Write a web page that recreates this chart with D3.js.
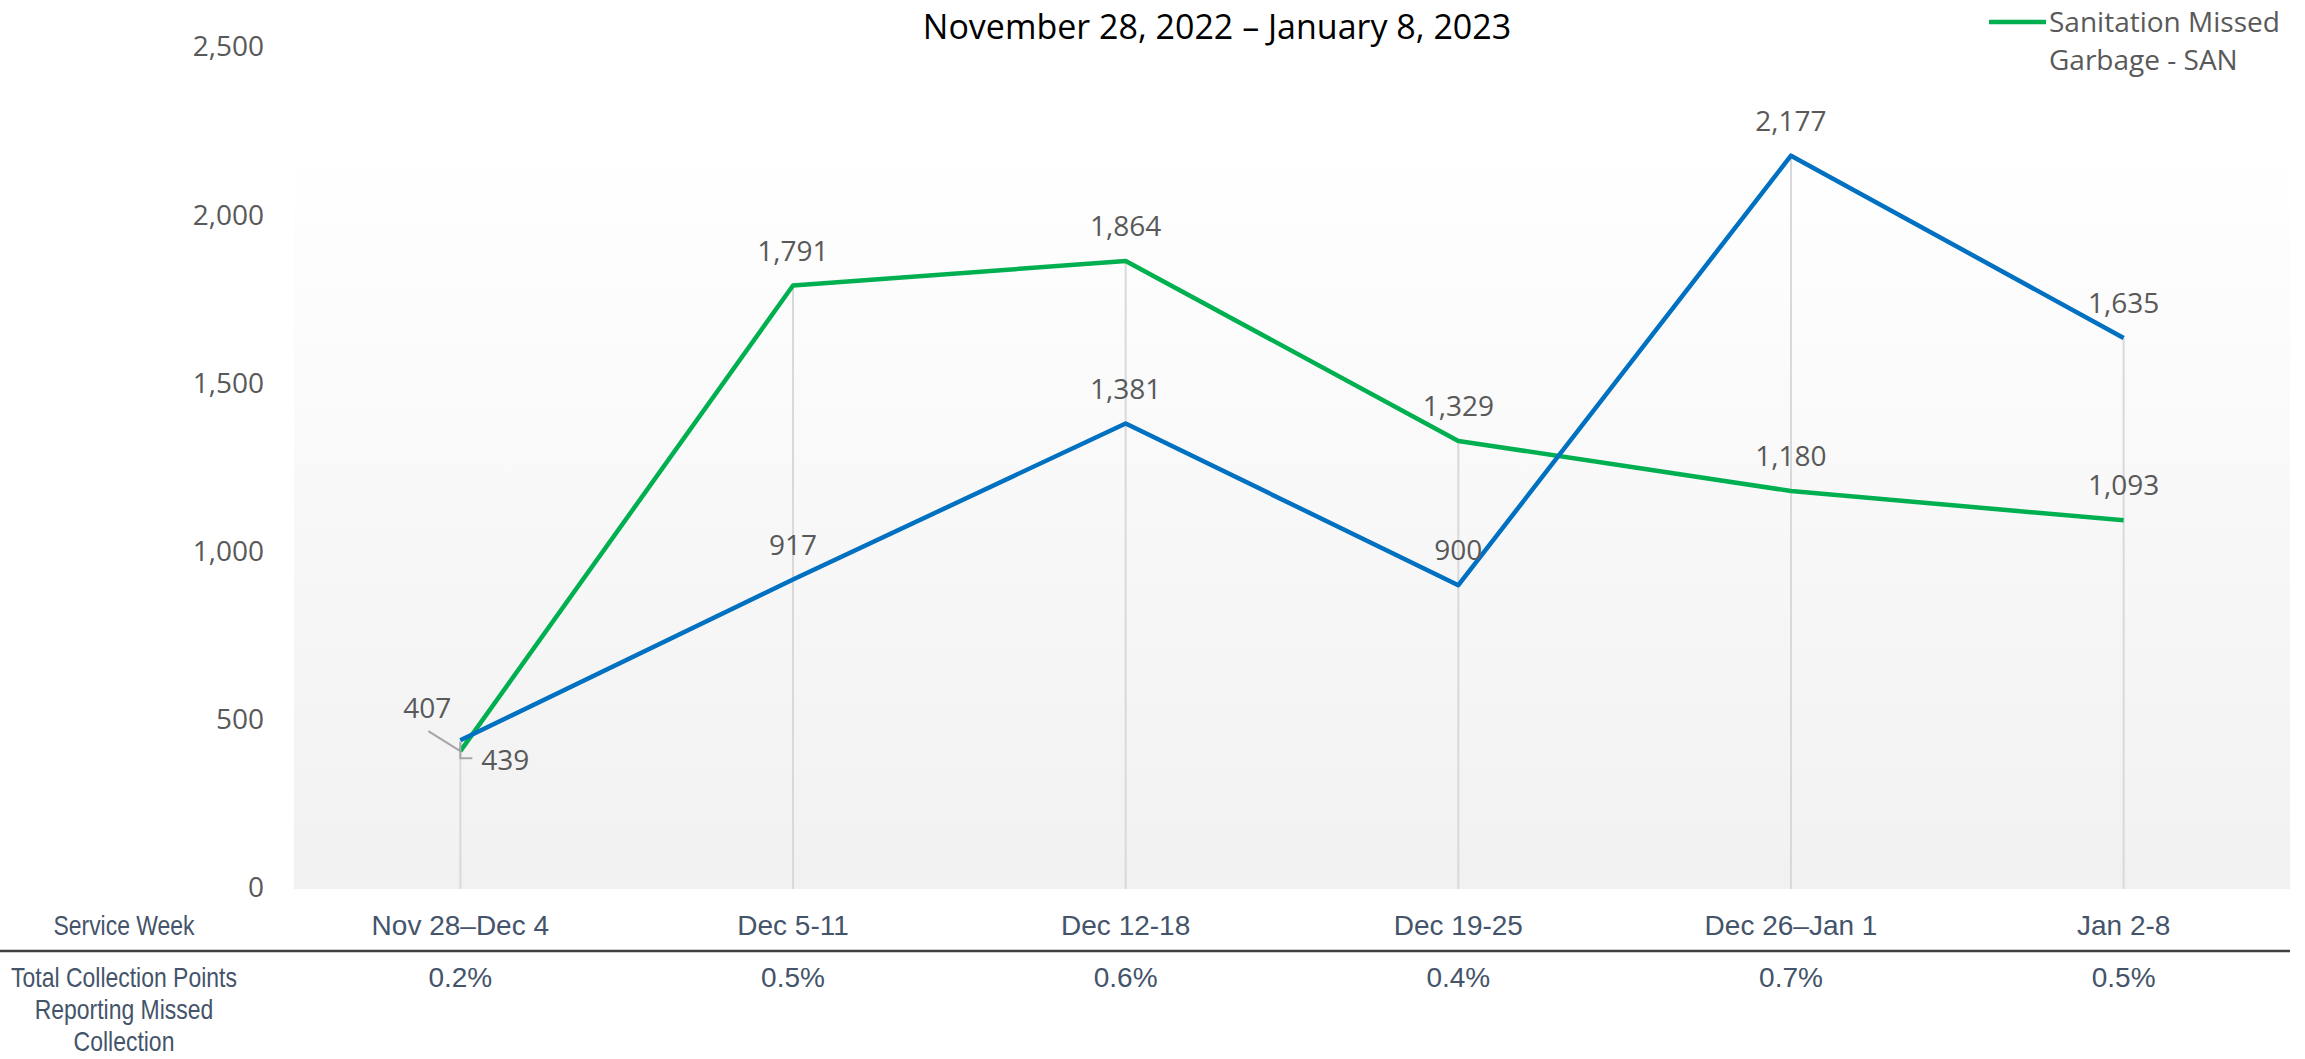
<!DOCTYPE html>
<html>
<head>
<meta charset="utf-8">
<script src="https://cdn.jsdelivr.net/npm/d3@7"></script>
<style>
  body { margin: 0; background: #fff; }
  svg { display: block; }
</style>
</head>
<body>
<div id="chart"></div>
<script>
// chart data
const weeks = ["Nov 28–Dec 4", "Dec 5-11", "Dec 12-18", "Dec 19-25", "Dec 26–Jan 1", "Jan 2-8"];
const blueValues = [439, 917, 1381, 900, 2177, 1635];
const sanValues = [407, 1791, 1864, 1329, 1180, 1093];
const pctMissed = ["0.2%", "0.5%", "0.6%", "0.4%", "0.7%", "0.5%"];
const yTicks = [0, 500, 1000, 1500, 2000, 2500];
const titleText = "November 28, 2022 – January 8, 2023";
const sanLabel = ["Sanitation Missed", "Garbage - SAN"];
const rowLabels = ["Service Week"];
const pctRowLabel = ["Total Collection Points", "Reporting Missed", "Collection"];

const W = 2305, H = 1059;
const plotLeft = 294, plotRight = 2290, plotTop = 145, plotBottom = 889;
const labelFont = "'Open Sans', sans-serif";
const tableFont = "'Liberation Sans', Arial, sans-serif";

const svg = d3.select("#chart").append("svg")
    .attr("width", W)
    .attr("height", H);

// background gradient for plot area
const defs = svg.append("defs");
const grad = defs.append("linearGradient")
    .attr("id", "plotBg")
    .attr("x1", 0).attr("y1", 0).attr("x2", 0).attr("y2", 1);
grad.append("stop").attr("offset", "0%").attr("stop-color", "#ffffff");
grad.append("stop").attr("offset", "100%").attr("stop-color", "#f1f1f1");

svg.append("rect")
    .attr("x", plotLeft).attr("y", plotTop)
    .attr("width", plotRight - plotLeft)
    .attr("height", plotBottom - plotTop)
    .attr("fill", "url(#plotBg)");

// scales
const x = d3.scaleBand().domain(weeks).range([plotLeft, plotRight]);
const cx = d => x(d) + x.bandwidth() / 2;
const y = d3.scaleLinear().domain([0, 2500]).range([888, 47]);

// drop lines
svg.append("g").selectAll("line")
    .data(weeks)
    .enter()
    .append("line")
    .attr("x1", d => cx(d)).attr("x2", d => cx(d))
    .attr("y1", (d, i) => y(Math.max(blueValues[i], sanValues[i])))
    .attr("y2", plotBottom)
    .attr("stroke", "#d9d9d9")
    .attr("stroke-width", 2);

// y axis
const yAxis = d3.axisLeft(y).tickValues(yTicks).tickFormat(d3.format(",")).tickSize(0).tickPadding(30);
const yG = svg.append("g")
    .attr("transform", `translate(${plotLeft},0)`)
    .call(yAxis);
yG.select(".domain").remove();
yG.selectAll("text")
    .attr("font-family", labelFont)
    .attr("font-size", 28)
    .attr("fill", "#595959");

// lines
const line = d3.line()
    .x((d, i) => cx(weeks[i]))
    .y(d => y(d));

svg.append("path")
    .datum(sanValues)
    .attr("d", line)
    .attr("fill", "none")
    .attr("stroke", "#00b050")
    .attr("stroke-width", 4.5)
    .attr("stroke-linejoin", "round");

svg.append("path")
    .datum(blueValues)
    .attr("d", line)
    .attr("fill", "none")
    .attr("stroke", "#0070c0")
    .attr("stroke-width", 4.5)
    .attr("stroke-linejoin", "round");

// data labels (first week uses callouts)
const fmt = d3.format(",");
const labelG = svg.append("g")
    .attr("font-family", labelFont)
    .attr("font-size", 28)
    .attr("fill", "#595959")
    .attr("text-anchor", "middle");

[sanValues, blueValues].forEach(vals => {
    labelG.selectAll(null)
        .data(vals.slice(1))
        .enter()
        .append("text")
        .attr("x", (d, i) => cx(weeks[i + 1]))
        .attr("y", d => y(d) - 35)
        .attr("dy", "0.36em")
        .text(d => fmt(d));
});

// callouts for the first week
const x0 = cx(weeks[0]);
const ySan0 = y(sanValues[0]);
const yBlue0 = y(blueValues[0]);
labelG.append("text")
    .attr("x", x0 - 33).attr("y", ySan0 - 43).attr("dy", "0.36em")
    .text(fmt(sanValues[0]));
svg.append("line")
    .attr("x1", x0 - 32).attr("y1", ySan0 - 20)
    .attr("x2", x0).attr("y2", ySan0)
    .attr("stroke", "#a6a6a6").attr("stroke-width", 2);
labelG.append("text")
    .attr("x", x0 + 45).attr("y", yBlue0 + 20).attr("dy", "0.36em")
    .text(fmt(blueValues[0]));
svg.append("polyline")
    .attr("points", `${x0},${yBlue0 + 2} ${x0},${yBlue0 + 18} ${x0 + 12},${yBlue0 + 18}`)
    .attr("fill", "none")
    .attr("stroke", "#a6a6a6").attr("stroke-width", 2);

// title
svg.append("text")
    .attr("x", 1217).attr("y", 39)
    .attr("text-anchor", "middle")
    .attr("font-family", labelFont)
    .attr("font-size", 34)
    .attr("fill", "#000")
    .text(titleText);

// legend
svg.append("line")
    .attr("x1", 1989).attr("x2", 2046)
    .attr("y1", 22).attr("y2", 22)
    .attr("stroke", "#00b050").attr("stroke-width", 4.5);
svg.append("g").selectAll("text")
    .data(sanLabel)
    .enter()
    .append("text")
    .attr("x", 2049)
    .attr("y", (d, i) => 22 + i * 38)
    .attr("dy", "0.36em")
    .attr("font-family", labelFont)
    .attr("font-size", 28)
    .attr("fill", "#595959")
    .text(d => d);

// table under the chart
const xAxis = d3.axisBottom(x).tickSize(0).tickPadding(26);
const xG = svg.append("g")
    .attr("transform", `translate(0,${plotBottom})`)
    .call(xAxis);
xG.select(".domain").remove();
xG.selectAll("text")
    .attr("font-family", tableFont)
    .attr("font-size", 28)
    .attr("fill", "#44546a");

svg.append("line")
    .attr("x1", 0).attr("x2", plotRight)
    .attr("y1", 951).attr("y2", 951)
    .attr("stroke", "#3f3f3f").attr("stroke-width", 2.5);

svg.append("g").selectAll("text")
    .data(pctMissed)
    .enter()
    .append("text")
    .attr("x", (d, i) => cx(weeks[i]))
    .attr("y", 977)
    .attr("dy", "0.36em")
    .attr("text-anchor", "middle")
    .attr("font-family", tableFont)
    .attr("font-size", 28)
    .attr("fill", "#44546a")
    .text(d => d);

// left column, condensed
const leftCol = svg.append("g")
    .attr("transform", "translate(124,0) scale(0.82,1)")
    .attr("font-family", tableFont)
    .attr("font-size", 28)
    .attr("fill", "#44546a")
    .attr("text-anchor", "middle");
leftCol.selectAll(null)
    .data(rowLabels)
    .enter()
    .append("text")
    .attr("x", 0).attr("y", 925).attr("dy", "0.36em")
    .text(d => d);
leftCol.selectAll(null)
    .data(pctRowLabel)
    .enter()
    .append("text")
    .attr("x", 0)
    .attr("y", (d, i) => 977 + i * 32)
    .attr("dy", "0.36em")
    .text(d => d);
</script>
</body>
</html>
